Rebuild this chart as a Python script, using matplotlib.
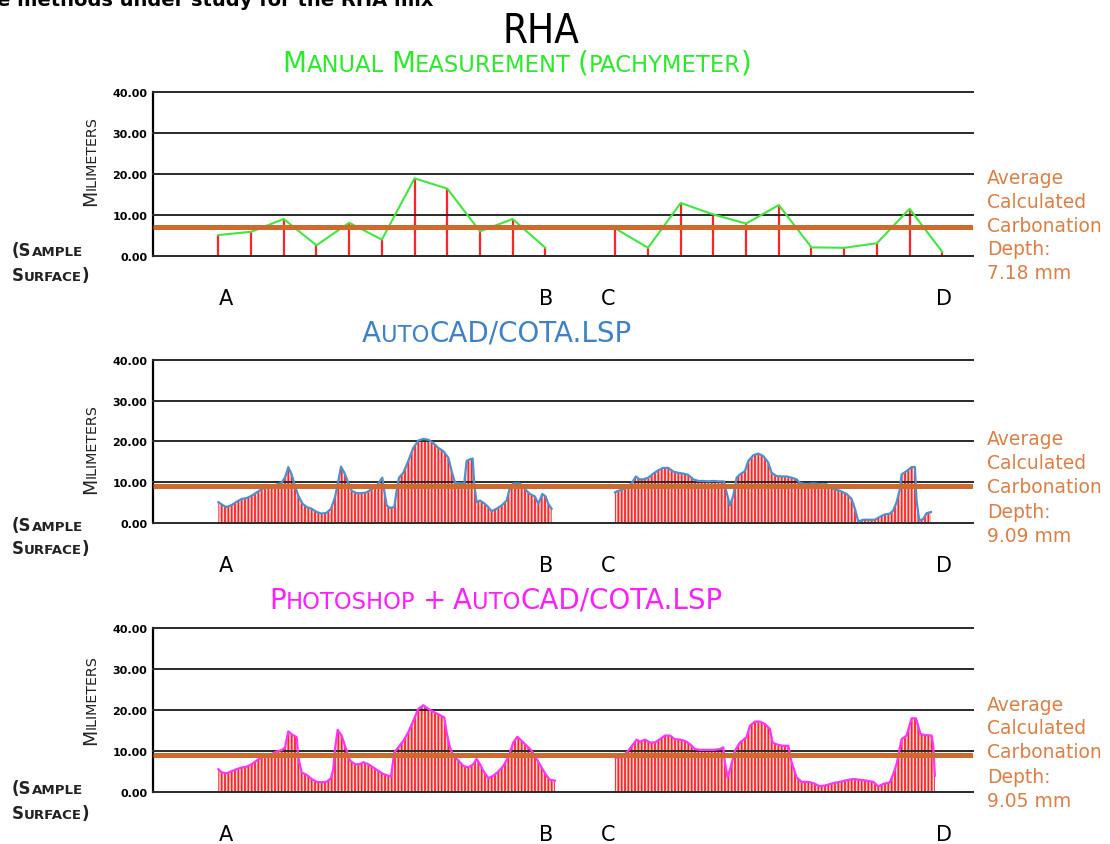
import numpy as np
import matplotlib
matplotlib.use("Agg")
import matplotlib.pyplot as plt
from matplotlib.transforms import IdentityTransform

W, H = 1110, 845

# ------------------------------------------------------------------ data
chart_title = "RHA"
caption_cut = "e methods under study for the RHA mix"
method_titles = ["Manual Measurement (pachymeter)", "AutoCAD/COTA.LSP",
                 "Photoshop + AutoCAD/COTA.LSP"]
avg_depth = [7.18, 9.09, 9.05]
y_ticks = [0, 10, 20, 30, 40]
y_tick_labels = ["0.00", "10.00", "20.00", "30.00", "40.00"]
point_labels = ["A", "B", "C", "D"]
y_label = "Milimeters"
surface_label = ["(Sample", "Surface)"]
avg_text = ["Average", "Calculated", "Carbonation", "Depth:"]

# manual measurements (pachymeter), mm; distance along sample (mm-like units)
manual_ab = [5.1, 5.9, 9.0, 2.6, 8.1, 4.0, 18.9, 16.4, 6.0, 9.0, 2.0]
manual_cd = [6.7, 2.0, 12.9, 10.1, 7.9, 12.4, 2.1, 2.0, 3.1, 11.5, 1.0]
manual_ab_x = [10.0, 15.0, 20.0, 25.0, 30.0, 35.0, 40.0, 45.0, 50.0, 55.0, 60.0]
manual_cd_x = [70.7, 75.7, 80.7, 85.7, 90.7, 95.7, 100.7, 105.7, 110.7, 115.7, 120.7]

# AutoCAD / COTA.LSP profile
acad_ab_x = [10.0, 10.75, 11.26, 12.03, 12.79, 13.56, 14.32, 15.09, 15.85, 16.61, 17.38,
             18.14, 18.91, 19.67, 20.18, 20.69, 21.20, 21.71, 22.22, 22.83, 23.50, 24.26,
             25.02, 25.79, 26.55, 27.22, 27.83, 28.34, 28.75, 29.26, 29.87, 30.38, 31.14,
             31.91, 32.67, 33.44, 34.20, 34.71, 35.07, 35.37, 35.73, 36.24, 36.90, 37.26,
             37.62, 38.28, 39.04, 39.81, 40.57, 41.33, 42.10, 42.86, 43.63, 44.39, 45.16,
             45.67, 46.18, 46.94, 47.60, 47.96, 48.47, 48.88, 49.13, 49.49, 50.00, 50.76,
             51.27, 51.78, 52.55, 53.31, 54.08, 54.59, 55.10, 56.12, 56.88, 57.65, 58.41,
             58.92, 59.53, 60.04, 60.45, 60.96]
acad_ab_y = [5.1, 4.3, 3.9, 4.4, 5.2, 5.9, 6.1, 6.7, 7.5, 8.3, 8.7, 9.1, 9.4, 9.9, 11.1,
             13.7, 11.9, 9.1, 6.7, 4.8, 3.9, 3.5, 2.7, 2.3, 2.5, 3.5, 6.3, 10.3, 13.8, 12.3,
             9.9, 7.9, 7.3, 7.3, 7.5, 8.3, 9.1, 10.3, 11.1, 7.9, 4.3, 3.7, 3.9, 7.9, 11.1,
             12.3, 15.2, 18.4, 20.2, 20.6, 20.4, 19.6, 18.4, 17.6, 16.0, 12.7, 9.9, 9.7, 9.7,
             15.2, 15.6, 15.8, 9.5, 5.1, 5.5, 4.7, 3.9, 2.9, 3.5, 4.3, 5.5, 8.7, 9.7, 9.7,
             8.3, 7.1, 6.5, 4.7, 7.1, 6.5, 4.7, 3.5]
acad_cd_x = [70.64, 71.15, 71.66, 72.43, 73.19, 73.85, 74.36, 74.98, 75.74, 76.51, 77.27,
             78.03, 78.80, 79.56, 80.33, 81.09, 81.86, 82.62, 83.39, 84.15, 84.92, 85.68,
             86.44, 87.31, 87.72, 88.23, 88.74, 89.25, 89.76, 90.52, 91.03, 91.80, 92.56,
             93.33, 94.09, 94.60, 95.36, 96.13, 96.89, 97.66, 98.42, 98.93, 99.95, 100.97,
             101.99, 103.01, 104.03, 105.05, 106.07, 106.83, 107.34, 107.85, 108.62,
             109.64, 110.40, 111.16, 111.93, 112.69, 113.20, 113.71, 114.22, 114.48,
             115.24, 116.01, 116.52, 116.77, 117.18, 117.79, 118.30, 118.96]
acad_cd_y = [7.5, 7.9, 8.1, 8.7, 9.7, 11.4, 10.7, 10.7, 11.1, 12.1, 12.9, 13.5, 13.5, 12.6,
             12.3, 12.1, 11.8, 10.7, 10.3, 10.3, 10.2, 10.3, 10.2, 10.2, 7.5, 4.3, 6.7, 11.1,
             11.9, 12.7, 15.2, 16.6, 17.0, 16.4, 14.8, 12.3, 11.5, 11.4, 11.4, 11.1, 10.7,
             9.8, 9.5, 9.7, 9.5, 9.5, 8.3, 7.9, 7.1, 5.9, 3.5, 0.4, 0.8, 0.8, 0.8, 1.5, 2.1,
             2.3, 3.1, 5.1, 8.3, 11.9, 12.7, 13.7, 13.7, 5.5, 0.6, 1.0, 2.4, 2.7]

# Photoshop + AutoCAD / COTA.LSP profile
psac_ab_x = [9.99, 10.50, 11.26, 12.03, 12.79, 13.56, 14.32, 15.09, 15.85, 16.61, 17.38,
             18.14, 18.91, 19.77, 20.18, 20.69, 21.30, 21.97, 22.22, 22.73, 23.50, 24.26,
             25.02, 25.79, 26.55, 27.22, 27.57, 27.83, 28.24, 28.85, 29.61, 30.12, 30.89,
             31.65, 32.16, 32.93, 33.69, 34.45, 35.22, 35.98, 36.39, 36.90, 37.51, 38.28,
             39.04, 39.81, 40.57, 41.33, 42.10, 42.86, 43.63, 44.55, 44.90, 45.41, 45.92,
             46.69, 47.45, 48.22, 48.98, 49.49, 50.00, 50.51, 51.28, 52.04, 52.80, 53.57,
             54.33, 55.10, 55.71, 56.37, 57.14, 57.90, 58.66, 59.43, 60.19, 60.70, 61.47]
psac_ab_y = [5.5, 4.7, 4.5, 5.0, 5.5, 5.9, 6.1, 6.7, 7.6, 8.4, 8.8, 9.2, 9.8, 10.2, 10.8,
             14.7, 13.9, 13.3, 8.4, 4.7, 4.1, 3.1, 2.4, 2.3, 2.4, 3.3, 5.5, 10.4, 15.1, 13.7,
             10.0, 7.6, 6.7, 6.7, 7.2, 6.7, 5.9, 5.1, 4.3, 3.9, 3.7, 9.6, 10.8, 12.4, 14.5,
             17.3, 20.2, 21.1, 20.2, 19.5, 18.9, 18.1, 14.5, 10.8, 8.8, 7.6, 6.3, 5.9, 6.7,
             8.0, 6.7, 5.1, 3.3, 3.9, 4.9, 6.3, 8.4, 12.0, 13.4, 12.4, 11.2, 10.0, 8.0, 5.9,
             3.9, 2.9, 2.7]
psac_cd_x = [70.64, 71.15, 71.92, 72.68, 73.45, 73.96, 74.47, 75.23, 76.00, 76.76, 77.52,
             78.29, 79.05, 79.82, 80.58, 81.35, 82.11, 82.88, 83.64, 84.66, 85.68, 86.70,
             87.21, 87.46, 87.87, 88.33, 88.99, 89.76, 90.78, 91.29, 92.05, 92.82, 93.58,
             94.34, 94.75, 95.62, 96.38, 97.15, 97.66, 98.42, 99.19, 100.21, 100.97, 101.99,
             103.01, 104.03, 105.05, 106.07, 107.09, 108.11, 109.13, 110.15, 110.91, 111.67,
             112.69, 113.20, 113.71, 114.48, 115.24, 116.01, 116.67, 117.38, 118.05, 119.07,
             119.32, 119.57]
psac_cd_y = [8.4, 8.2, 8.8, 10.0, 11.6, 12.7, 12.2, 12.7, 12.0, 12.0, 12.8, 13.7, 13.7, 12.8,
             12.7, 12.4, 11.6, 10.4, 10.2, 10.2, 10.2, 10.4, 10.8, 7.2, 3.5, 5.9, 10.0, 12.0,
             13.3, 16.1, 17.1, 17.1, 16.5, 15.3, 12.0, 11.4, 11.2, 11.2, 7.2, 3.5, 2.4, 2.4,
             2.1, 1.3, 1.6, 2.1, 2.4, 2.8, 3.1, 2.9, 2.7, 2.4, 1.3, 1.9, 2.3, 4.3, 6.7, 12.8,
             13.7, 17.9, 17.9, 14.1, 13.8, 13.7, 11.2, 3.9]

# ------------------------------------------------------------------ style
GREEN_T, GREEN_L = "#2aea2a", "#3ee83e"
BLUE_T, BLUE_L = "#3d82c8", "#4f8fd0"
MAG_T, MAG_L = "#ff1eff", "#ff33ff"
ORANGE_L, ORANGE_T = "#cd6a2e", "#dd7f45"
RED = "#ff2424"
GRID = "#2a2a2a"
FONT = "DejaVu Sans"

plt.rcParams["hatch.linewidth"] = 1.3

fig = plt.figure(figsize=(W / 100, H / 100), dpi=100)
fig.patch.set_facecolor("white")
renderer = fig.canvas.get_renderer()


def sc_parts(s):
    parts = []
    for ch in s:
        kind = "sp" if ch == " " else ("small" if ch.islower() else "big")
        if parts and parts[-1][0] == kind and kind != "sp":
            parts[-1][1] += ch.upper()
        else:
            parts.append([kind, ch.upper()])
    return parts


def draw_small_caps(s, x, y, big, small, color, align="center", rotation=0,
                    weight="normal"):
    """Pseudo small-caps text. x,y in pixels from top-left; y is baseline
    (horizontal) or centre (vertical)."""
    items, total = [], 0.0
    for kind, txt in sc_parts(s):
        if kind == "sp":
            gap = small * 100 / 72 * 0.32
            items.append((None, gap))
            total += gap
            continue
        size = big if kind == "big" else small
        t = fig.text(0, 0, txt, fontsize=size, color=color, weight=weight,
                     family=FONT, rotation=rotation, rotation_mode="anchor",
                     ha="left", va="baseline", transform=IdentityTransform())
        bb = t.get_window_extent(renderer=renderer)
        L = bb.height if rotation == 90 else bb.width
        items.append((t, L))
        total += L
    if rotation == 90:
        cur = (H - y) - total / 2 if align == "center" else (H - y)
        for t, L in items:
            if t is not None:
                t.set_position((x, cur))
            cur += L
    else:
        cur = x - total / 2 if align == "center" else x
        for t, L in items:
            if t is not None:
                t.set_position((cur, H - y))
            cur += L


def px_text(x, y, s, **kw):
    fig.text(x / W, 1 - y / H, s, **kw)


# ------------------------------------------------------------------ layout
panel_px = [(92.7, 257.0), (360.7, 524.0), (628.7, 792.7)]
ax_left, ax_right = 153, 973
x_max = 125.4

series = [
    None,
    ((acad_ab_x, acad_ab_y), (acad_cd_x, acad_cd_y), BLUE_L),
    ((psac_ab_x, psac_ab_y), (psac_cd_x, psac_cd_y), MAG_L),
]
title_colors = [GREEN_T, BLUE_T, MAG_T]
title_pos = [(517, 72), (497, 342), (496, 609)]
ylabel_center = [161, 449, 700]
surface_base = [(256, 281), (531, 554), (794, 819)]
letter_y = [299, 566, 835]
letter_x = [226, 546, 608, 944]
avg_rows = [[178, 202, 226, 250, 274], [440, 464, 488, 513, 537],
            [706, 729, 753, 778, 802]]

for i, (top, bot) in enumerate(panel_px):
    ax = fig.add_axes([ax_left / W, 1 - bot / H, (ax_right - ax_left) / W, (bot - top) / H])
    ax.set_xlim(0, x_max)
    ax.set_ylim(0, 40)
    ax.set_xticks([])
    ax.set_yticks(y_ticks)
    ax.set_yticklabels(y_tick_labels, fontsize=8, fontweight="bold", family=FONT)
    ax.tick_params(axis="y", length=0, pad=4)
    for sp in ("top", "right", "bottom"):
        ax.spines[sp].set_visible(False)
    ax.spines["left"].set_color("black")
    ax.spines["left"].set_linewidth(1.6)
    ax.set_facecolor("none")
    ax.set_axisbelow(False)
    ax.grid(axis="y", color=GRID, lw=1.4)
    for gl in ax.get_ygridlines():
        gl.set_clip_on(False)

    if i == 0:
        for xs, ys in ((manual_ab_x, manual_ab), (manual_cd_x, manual_cd)):
            ax.vlines(xs, 0, ys, color=RED, lw=1.6, zorder=2)
            ax.plot(xs, ys, color=GREEN_L, lw=1.5, zorder=3)
    else:
        seg1, seg2, lc = series[i]
        for xs, ys in (seg1, seg2):
            ax.fill_between(xs, 0, ys, facecolor="#ffd9d9", edgecolor=RED,
                            hatch="|||||", linewidth=0, zorder=1)
            ax.plot(xs, ys, color=lc, lw=1.6, zorder=3)

    ax.axhline(avg_depth[i], color=ORANGE_L, lw=3.6, zorder=4, solid_capstyle="butt")

    # titles
    tx, ty = title_pos[i]
    draw_small_caps(method_titles[i], tx, ty, 20, 16.3, title_colors[i])

    # y label
    draw_small_caps(y_label, 96, ylabel_center[i], 13.5, 10.3, "#222222", rotation=90)

    # sample surface
    for lab, base in zip(surface_label, surface_base[i]):
        draw_small_caps(lab, 12, base, 12, 9.6, "#222222", align="left", weight="bold")

    # A B C D
    for lx, lab in zip(letter_x, point_labels):
        px_text(lx, letter_y[i], lab, fontsize=15, ha="center", va="center",
                family=FONT, color="black")

    # average annotation
    rows = avg_text + [f"{avg_depth[i]:.2f} mm"]
    for ry, s in zip(avg_rows[i], rows):
        px_text(987, ry, s, fontsize=13.5, ha="left", va="center", family=FONT,
                color=ORANGE_T)

# main title and (partly cropped) caption at the very top
px_text(541, 43, chart_title, fontsize=29, ha="center", va="baseline", family=FONT,
        fontstretch="condensed", color="black")
px_text(-3, 6, caption_cut, fontsize=14, ha="left", va="baseline", family=FONT,
        weight="bold", color="black")

fig.savefig("out.png", dpi=100, facecolor="white")
